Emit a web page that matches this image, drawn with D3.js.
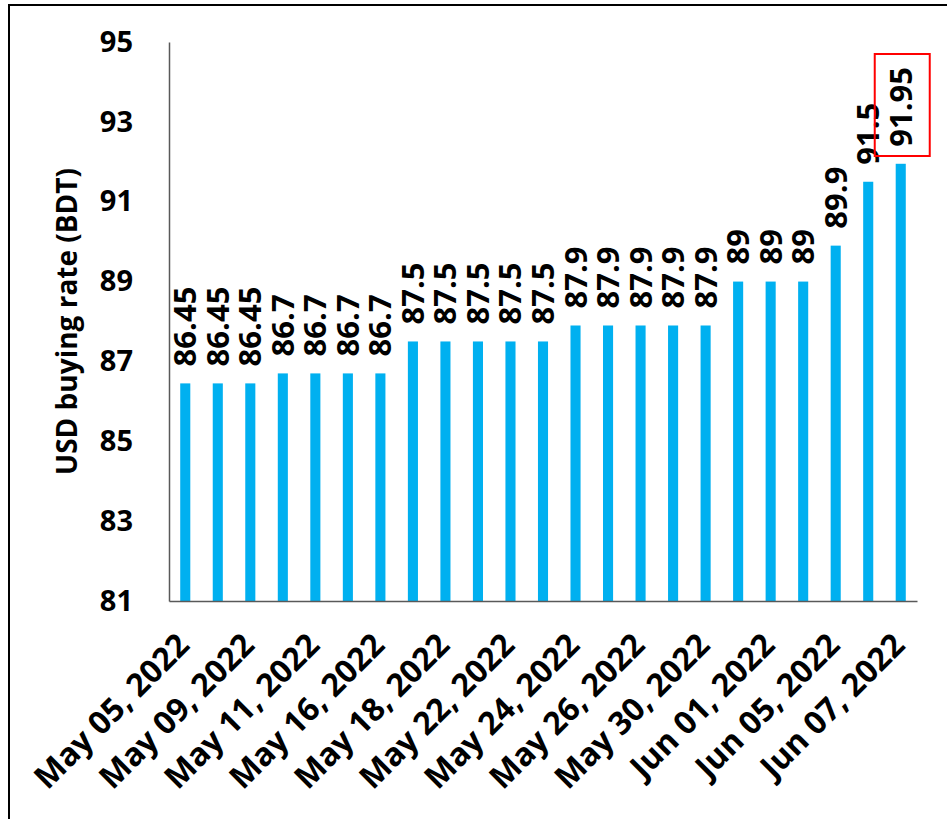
<!DOCTYPE html>
<html lang="en">
<head>
<meta charset="UTF-8">
<title>USD buying rate (BDT)</title>
<style>
  * { margin: 0; padding: 0; box-sizing: border-box; }
  body { background: #fff; width: 947px; height: 819px; overflow: hidden; }
  svg { display: block; }
  svg text { font-family: 'Open Sans', sans-serif; font-weight: 700; fill: #000; }
</style>
</head>
<body>
<svg width="947" height="819"></svg>
<script src="https://cdn.jsdelivr.net/npm/d3@7/dist/d3.min.js"></script>
<script>
// Data
const dates = [
  'May 05, 2022', 'May 08, 2022', 'May 09, 2022', 'May 10, 2022', 'May 11, 2022',
  'May 12, 2022', 'May 16, 2022', 'May 17, 2022', 'May 18, 2022', 'May 19, 2022',
  'May 22, 2022', 'May 23, 2022', 'May 24, 2022', 'May 25, 2022', 'May 26, 2022',
  'May 29, 2022', 'May 30, 2022', 'May 31, 2022', 'Jun 01, 2022', 'Jun 02, 2022',
  'Jun 05, 2022', 'Jun 06, 2022', 'Jun 07, 2022'
];
const rates = [
  86.45, 86.45, 86.45, 86.7, 86.7, 86.7, 86.7, 87.5, 87.5, 87.5, 87.5, 87.5,
  87.9, 87.9, 87.9, 87.9, 87.9, 89, 89, 89, 89.9, 91.5, 91.95
];
const shownDates = [
  'May 05, 2022', 'May 09, 2022', 'May 11, 2022', 'May 16, 2022', 'May 18, 2022',
  'May 22, 2022', 'May 24, 2022', 'May 26, 2022', 'May 30, 2022', 'Jun 01, 2022',
  'Jun 05, 2022', 'Jun 07, 2022'
];
const yTicks = [81, 83, 85, 87, 89, 91, 93, 95];
const highlighted = 'Jun 07, 2022';

const svg = d3.select('svg');
const margin = { left: 169, right: 30, top: 42, bottom: 218 };
const width = 947, height = 819;

const x = d3.scaleBand()
  .domain(dates)
  .range([margin.left, width - margin.right])
  .paddingInner(0.69)
  .paddingOuter(0.345);

const y = d3.scaleLinear()
  .domain([81, 95])
  .range([height - margin.bottom, margin.top]);

// Outer frame (left and top edges visible)
svg.append('path')
  .attr('d', `M9,819V5H947`)
  .attr('fill', 'none')
  .attr('stroke', '#000')
  .attr('stroke-width', 2);

// Bars
svg.append('g')
  .selectAll('rect')
  .data(rates)
  .join('rect')
  .attr('x', (d, i) => x(dates[i]))
  .attr('y', d => y(d))
  .attr('width', x.bandwidth())
  .attr('height', d => y(81) - y(d))
  .attr('fill', '#00b0f0');

// Y axis
const yAxis = svg.append('g')
  .attr('transform', `translate(${margin.left},0)`)
  .call(d3.axisLeft(y).tickValues(yTicks).tickSize(0).tickPadding(36).tickFormat(d3.format('d')));
yAxis.attr('font-family', null).attr('font-size', null);
yAxis.select('.domain').attr('stroke', '#595959').attr('stroke-width', 1.5);
yAxis.selectAll('text').style('font-size', '29px').attr('fill', '#000');

// X axis
const xAxis = svg.append('g')
  .attr('transform', `translate(0,${y(81)})`)
  .call(d3.axisBottom(x).tickValues(shownDates).tickSize(0).tickFormat(''));
xAxis.select('.domain').attr('stroke', '#595959').attr('stroke-width', 1.5);

svg.append('g')
  .selectAll('text')
  .data(shownDates)
  .join('text')
  .attr('transform', d => `translate(${x(d) + x.bandwidth() / 2 + 6},${y(81) + 46}) rotate(-45)`)
  .attr('text-anchor', 'end')
  .style('font-size', '32px')
  .text(d => d);

// Value labels
svg.append('g')
  .selectAll('text')
  .data(rates)
  .join('text')
  .attr('transform', (d, i) => `translate(${x(dates[i]) + x.bandwidth() / 2 + 11},${y(d) - 17}) rotate(-90)`)
  .style('font-size', '31px')
  .text(d => d);

// Highlight box around the last value
const hx = x(highlighted) + x.bandwidth() / 2;
svg.append('rect')
  .attr('x', hx - 26)
  .attr('y', 54)
  .attr('width', 55)
  .attr('height', 102)
  .attr('fill', 'none')
  .attr('stroke', '#ff0000')
  .attr('stroke-width', 2);

// Y axis title
svg.append('text')
  .attr('transform', `translate(77,${(y(81) + y(95)) / 2}) rotate(-90)`)
  .attr('text-anchor', 'middle')
  .style('font-size', '28px')
  .text('USD buying rate (BDT)');
</script>
</body>
</html>
